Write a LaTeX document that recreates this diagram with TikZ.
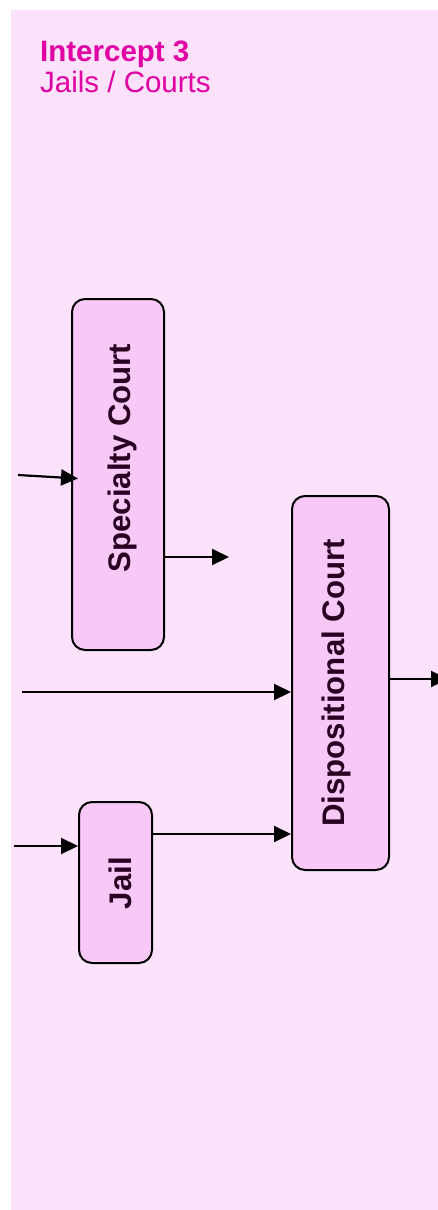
\documentclass[tikz,border=0pt]{standalone}
\usepackage{fontspec}
\setmainfont{Liberation Sans}
\usetikzlibrary{arrows.meta,calc}

\definecolor{panelpink}{RGB}{252,227,251}
\definecolor{boxpink}{RGB}{248,200,246}
\definecolor{titlemagenta}{RGB}{224,0,164}
\definecolor{labelink}{RGB}{40,0,34}

\begin{document}
\begin{tikzpicture}[x=1pt, y=-1pt,
  stagebox/.style={draw=black, line width=2pt, fill=boxpink,
    rounded corners=13pt, inner sep=0pt},
  stagelabel/.style={rotate=90, inner sep=0pt, text=labelink,
    font=\bfseries\fontsize{31.2}{36}\selectfont},
  headline/.style={anchor=base west, inner sep=0pt, text=titlemagenta},
  flow/.style={line width=2.2pt, -{Triangle[length=17pt, width=16pt]}}]

  % canvas and panel
  \clip (0,0) rectangle (438,1210);
  \fill[panelpink] (11,10) rectangle (438,1210);

  % heading
  \node[headline, font=\bfseries\fontsize{29.5}{34}\selectfont] (title) at (40,61) {Intercept 3};
  \node[headline, font=\fontsize{29.5}{34}\selectfont] (subtitle) at (40,92.5) {Jails / Courts};

  % stage boxes
  \node[stagebox, minimum width=92pt, minimum height=351pt] (spec) at (118,474.5) {};
  \node[stagebox, minimum width=97pt, minimum height=374pt] (disp) at (340.5,683) {};
  \node[stagebox, minimum width=73pt, minimum height=161pt] (jail) at (115.5,882.5) {};

  % rotated box labels
  \node[stagelabel] (specLabel) at (122.5,458) {Specialty Court};
  \node[stagelabel] (dispLabel) at (336,683) {Dispositional Court};
  \node[stagelabel] (jailLabel) at (120,883) {Jail};

  % free ends of the flows
  \coordinate (specIn) at (18,475);
  \coordinate (specOut) at (229,557);
  \coordinate (dispIn) at (22,692);
  \coordinate (dispOut) at (448,679);
  \coordinate (jailIn) at (14,846);

  % flows
  \draw[flow] (specIn) -- ($(spec.west |- 0,478.5)+(7,0)$);
  \draw[flow] (spec.east |- specOut) -- (specOut);
  \draw[flow] (dispIn) -- (disp.west |- dispIn);
  \draw[flow] (disp.east |- dispOut) -- (dispOut);
  \draw[flow] (jailIn) -- (jail.west |- jailIn);
  \draw[flow] (jail.east |- 0,834) -- (disp.west |- 0,834);
\end{tikzpicture}
\end{document}
